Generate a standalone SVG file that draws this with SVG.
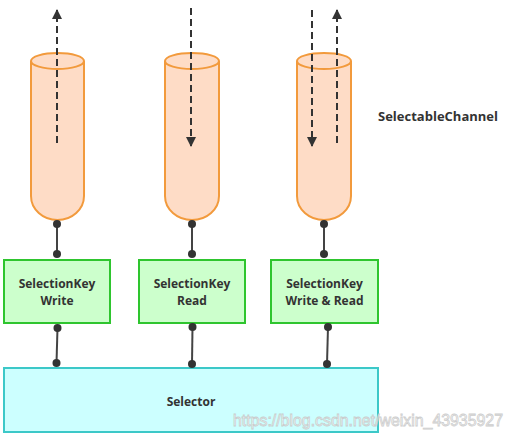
<svg xmlns="http://www.w3.org/2000/svg" width="514" height="439" viewBox="0 0 514 439">
<defs>
<style>
.cyl{fill:#fedcc6;stroke:#f29a3c;stroke-width:2}
.key{fill:#ccffcc;stroke:#2ec52e;stroke-width:2}
.sel{fill:#ccffff;stroke:#3cc8c8;stroke-width:2}
.dash{stroke:#333;stroke-width:2;stroke-dasharray:7 4;fill:none}
.con{stroke:#444;stroke-width:2}
.dot{fill:#333}
.t{font-family:"Open Sans","Liberation Sans",sans-serif;font-weight:bold;font-size:12px;fill:#333;text-anchor:middle}
</style>
<marker id="ah" viewBox="0 0 10 10" refX="9" refY="5" markerWidth="5" markerHeight="5" orient="auto" markerUnits="strokeWidth">
<path d="M0,0 L10,5 L0,10 Z" fill="#333"/>
</marker>
</defs>
<rect width="514" height="439" fill="#fff"/>
<g id="channel1">
<path class="cyl" d="M31,61 L31,196 A26.5,24 0 0 0 84,196 L84,61"/>
<ellipse class="cyl" cx="57.5" cy="61" rx="26.5" ry="8"/>
</g>
<g id="channel2">
<path class="cyl" d="M165,61 L165,196 A27,24 0 0 0 219,196 L219,61"/>
<ellipse class="cyl" cx="192" cy="61" rx="27" ry="8"/>
</g>
<g id="channel3">
<path class="cyl" d="M297,61 L297,196 A27,24 0 0 0 351,196 L351,61"/>
<ellipse class="cyl" cx="324" cy="61" rx="27" ry="8"/>
</g>
<g id="label-channel">
<text class="t" x="438" y="121" style="font-size:13px">SelectableChannel</text>
</g>
<g id="key-write">
<rect class="key" x="4" y="260" width="106" height="63"/>
<text class="t" x="57" y="288">SelectionKey</text>
<text class="t" x="57" y="305">Write</text>
</g>
<g id="key-read">
<rect class="key" x="139" y="260" width="106" height="63"/>
<text class="t" x="192" y="288">SelectionKey</text>
<text class="t" x="192" y="305">Read</text>
</g>
<g id="key-writeread">
<rect class="key" x="271" y="260" width="107" height="63"/>
<text class="t" x="324.5" y="288">SelectionKey</text>
<text class="t" x="324.5" y="305">Write &amp; Read</text>
</g>
<g id="selector">
<rect class="sel" x="4" y="368" width="374" height="64"/>
<text class="t" x="191" y="406">Selector</text>
</g>
<g id="connectors">
<line class="dash" x1="57" y1="143" x2="57" y2="10" marker-end="url(#ah)"/>
<line class="dash" x1="191" y1="8" x2="191" y2="146" marker-end="url(#ah)"/>
<line class="dash" x1="312" y1="10" x2="312" y2="146" marker-end="url(#ah)"/>
<line class="dash" x1="337" y1="143" x2="337" y2="10" marker-end="url(#ah)"/>
<line class="con" x1="57" y1="224" x2="57" y2="254"/>
<circle class="dot" cx="57" cy="224" r="4"/><circle class="dot" cx="57" cy="254" r="4"/>
<line class="con" x1="192" y1="224" x2="192" y2="254"/>
<circle class="dot" cx="192" cy="224" r="4"/><circle class="dot" cx="192" cy="254" r="4"/>
<line class="con" x1="324" y1="224" x2="324" y2="254"/>
<circle class="dot" cx="324" cy="224" r="4"/><circle class="dot" cx="324" cy="254" r="4"/>
<line class="con" x1="57.5" y1="328" x2="56.5" y2="363"/>
<circle class="dot" cx="57.5" cy="328" r="4"/><circle class="dot" cx="56.5" cy="363" r="4"/>
<line class="con" x1="192.5" y1="327" x2="192" y2="364"/>
<circle class="dot" cx="192.5" cy="327" r="4"/><circle class="dot" cx="192" cy="364" r="4"/>
<line class="con" x1="328" y1="327" x2="327" y2="364"/>
<circle class="dot" cx="328" cy="327" r="4"/><circle class="dot" cx="327" cy="364" r="4"/>
</g>
<text x="233" y="426" font-family="Liberation Sans, Arial, sans-serif" font-size="16" textLength="270" lengthAdjust="spacingAndGlyphs" fill="#ffffff" stroke="#c8c8c8" stroke-width="0.8" opacity="0.9">https://blog.csdn.net/weixin_43935927</text>
</svg>
